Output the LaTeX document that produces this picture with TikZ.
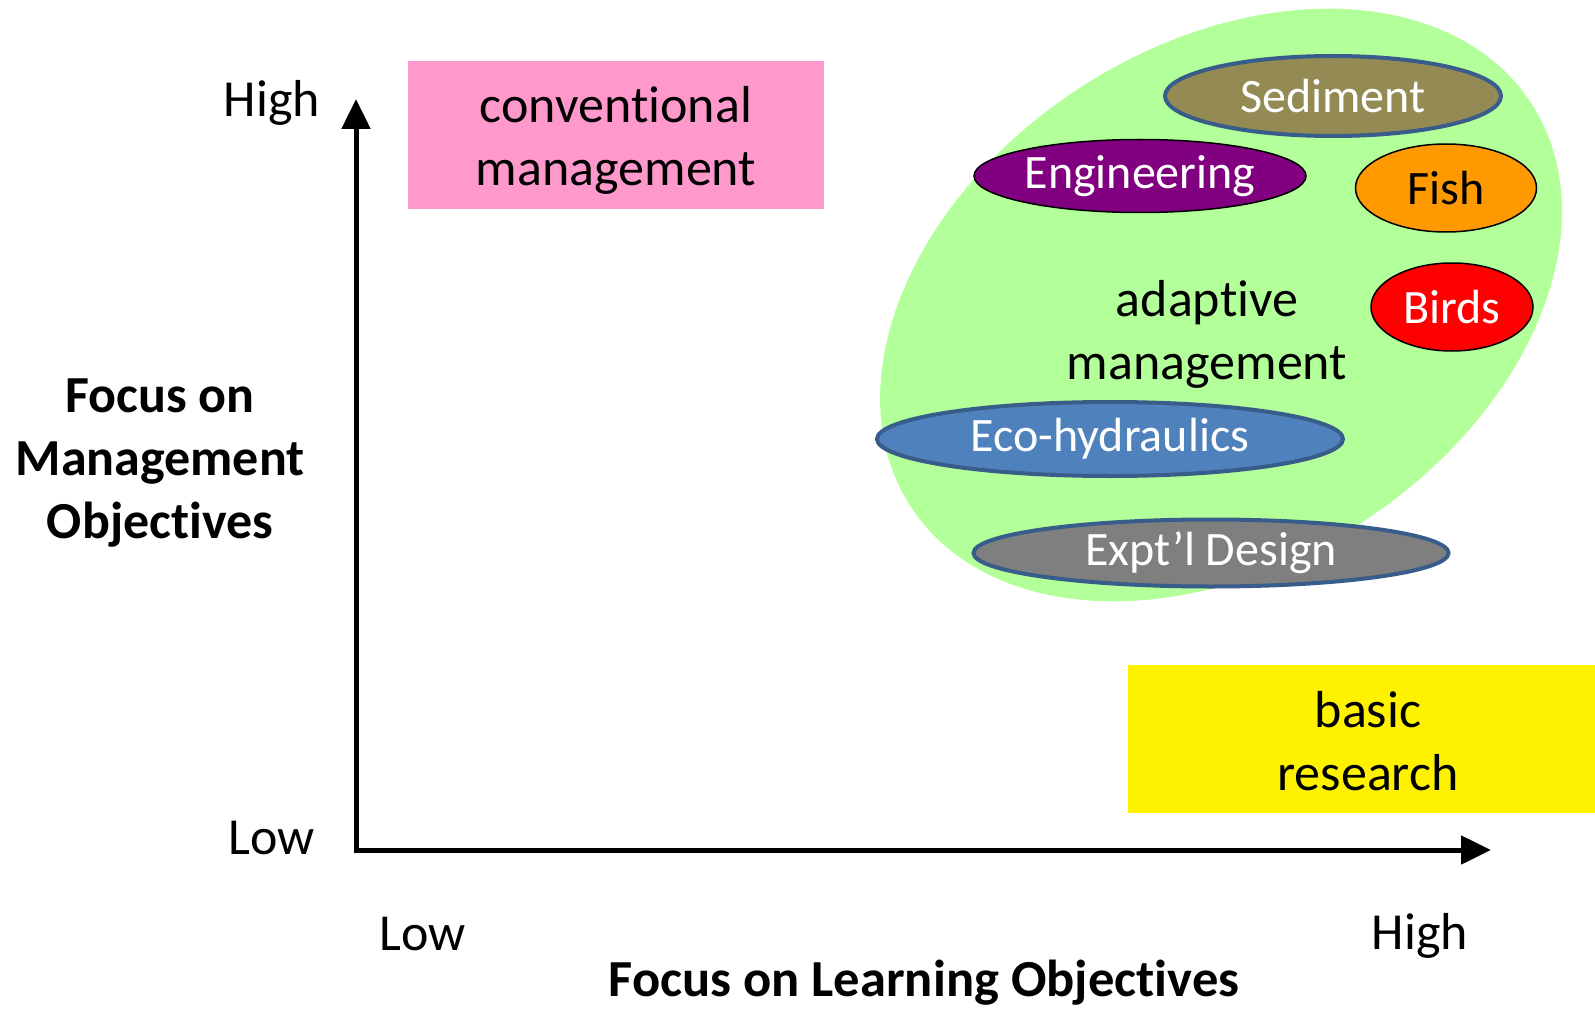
\documentclass[tikz,border=0pt]{standalone}
\usepackage{fontspec}
\setmainfont{Carlito}[Ligatures=NoCommon]
\usetikzlibrary{shapes.geometric,arrows.meta}
\definecolor{convpink}{HTML}{FF99CC}
\definecolor{adaptgreen}{HTML}{B3FF99}
\definecolor{sedolive}{HTML}{948A54}
\definecolor{engpurple}{HTML}{800080}
\definecolor{fishorange}{HTML}{FF9900}
\definecolor{ecoblue}{HTML}{4F81BD}
\definecolor{exptgray}{HTML}{7F7F7F}
\definecolor{rimblue}{HTML}{385D8A}

\begin{document}
\begin{tikzpicture}[x=1pt,y=-1pt,
  txt/.style={font=\fontsize{52}{63}\selectfont, align=center, inner sep=0},
  boldtxt/.style={font=\fontsize{52}{63}\selectfont\bfseries, align=center, inner sep=0},
  blob/.style={ellipse, draw=black, line width=1.5pt, inner sep=0, text=white, font=\fontsize{48}{58}\selectfont},
  rim/.style={draw=rimblue, line width=4pt},
  axis/.style={line width=5pt, {Triangle[length=30pt,width=28pt]}-{Triangle[length=30pt,width=28pt]}}]
  \useasboundingbox[fill=white] (0,0) rectangle (1595,1011);
  \fill[adaptgreen] (1221,305) ellipse [x radius=370, y radius=259, rotate=33];
  \coordinate (ytop) at (356,99);
  \coordinate (origin) at (356,850);
  \coordinate (xend) at (1491,850);
  \draw[axis] (ytop) -- (origin) -- (xend);
  \node[txt] (yhigh) at (272,103) {High};
  \node[txt] (ylow) at (272,838) {Low};
  \node[txt] (xlow) at (423,934) {Low};
  \node[txt] (xhigh) at (1420,936) {High};
  \node[boldtxt, xscale=1.01] (xlabel) at (924,983) {Focus on Learning Objectives};
  \node[boldtxt] (ylabel) at (160,463) {Focus on\\Management\\Objectives};
  \node[txt, fill=convpink, minimum width=416pt, minimum height=148pt] (conv) at (616,135) {};
  \node[txt] (convtxt) at (616,140) {conventional\\management};
  \node[txt, fill=yellow, minimum width=481pt, minimum height=148pt] (basic) at (1368,739) {};
  \node[txt] (basictxt) at (1368,741) {basic\\research};
  \node[txt] (adapt) at (1207,334) {adaptive\\management};
  \node[blob, rim, fill=sedolive, minimum width=336pt, minimum height=80pt] (sed) at (1333,96) {Sediment};
  \node[blob, fill=engpurple, minimum width=332pt, minimum height=73pt] (eng) at (1140,176) {Engineering};
  \node[blob, fill=fishorange, text=black, minimum width=181pt, minimum height=88pt] (fish) at (1446,188) {Fish};
  \node[blob, fill=red, minimum width=162pt, minimum height=88pt] (birds) at (1452,307) {Birds};
  \node[blob, rim, fill=ecoblue, minimum width=466pt, minimum height=74pt] (eco) at (1110,439) {Eco-hydraulics};
  \node[blob, rim, fill=exptgray, minimum width=475pt, minimum height=67pt] (expt) at (1211,553) {Expt’l Design};
\end{tikzpicture}
\end{document}
